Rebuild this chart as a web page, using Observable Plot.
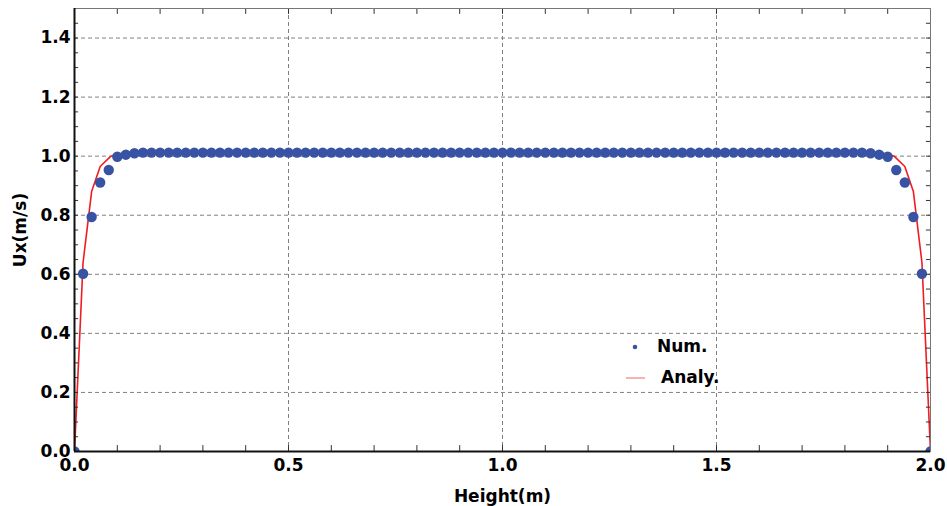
<!DOCTYPE html>
<html>
<head>
<meta charset="utf-8">
<script src="https://cdn.jsdelivr.net/npm/d3@7"></script>
<script src="https://cdn.jsdelivr.net/npm/@observablehq/plot@0.6"></script>
<style>
  html, body { margin: 0; padding: 0; background: #fff; }
  #wrap { position: relative; width: 947px; height: 506px; }
  #legend { position: absolute; left: 0; top: 0; pointer-events: none; }
</style>
</head>
<body>
<div id="wrap"></div>
<script>
// Numerical solution (dots)
const heightNum = [
  0.00, 0.02, 0.04, 0.06, 0.08, 0.10, 0.12, 0.14, 0.16, 0.18,
  0.20, 0.22, 0.24, 0.26, 0.28, 0.30, 0.32, 0.34, 0.36, 0.38,
  0.40, 0.42, 0.44, 0.46, 0.48, 0.50, 0.52, 0.54, 0.56, 0.58,
  0.60, 0.62, 0.64, 0.66, 0.68, 0.70, 0.72, 0.74, 0.76, 0.78,
  0.80, 0.82, 0.84, 0.86, 0.88, 0.90, 0.92, 0.94, 0.96, 0.98,
  1.00, 1.02, 1.04, 1.06, 1.08, 1.10, 1.12, 1.14, 1.16, 1.18,
  1.20, 1.22, 1.24, 1.26, 1.28, 1.30, 1.32, 1.34, 1.36, 1.38,
  1.40, 1.42, 1.44, 1.46, 1.48, 1.50, 1.52, 1.54, 1.56, 1.58,
  1.60, 1.62, 1.64, 1.66, 1.68, 1.70, 1.72, 1.74, 1.76, 1.78,
  1.80, 1.82, 1.84, 1.86, 1.88, 1.90, 1.92, 1.94, 1.96, 1.98,
  2.00
];
const uxNum = [
  0, 0.602, 0.794, 0.911, 0.953, 0.998, 1.005, 1.010,
  1.012, 1.012, 1.012, 1.012, 1.012, 1.012, 1.012, 1.012, 1.012, 1.012,
  1.012, 1.012, 1.012, 1.012, 1.012, 1.012, 1.012, 1.012, 1.012, 1.012,
  1.012, 1.012, 1.012, 1.012, 1.012, 1.012, 1.012, 1.012, 1.012, 1.012,
  1.012, 1.012, 1.012, 1.012, 1.012, 1.012, 1.012, 1.012, 1.012, 1.012,
  1.012, 1.012, 1.012, 1.012, 1.012, 1.012, 1.012, 1.012, 1.012, 1.012,
  1.012, 1.012, 1.012, 1.012, 1.012, 1.012, 1.012, 1.012, 1.012, 1.012,
  1.012, 1.012, 1.012, 1.012, 1.012, 1.012, 1.012, 1.012, 1.012, 1.012,
  1.012, 1.012, 1.012, 1.012, 1.012, 1.012, 1.012, 1.012, 1.012, 1.012,
  1.012, 1.012, 1.012, 1.012, 1.012,
  1.010, 1.005, 0.998, 0.953, 0.911, 0.794, 0.602, 0
];
// Analytical solution (line)
const heightAnaly = [0, 0.02, 0.04, 0.06, 0.085, 0.11, 0.15, 0.5, 1.0, 1.5, 1.85, 1.89, 1.915, 1.94, 1.96, 1.98, 2.0];
const uxAnaly    = [0, 0.64, 0.88, 0.965, 1.0, 1.01, 1.013, 1.013, 1.013, 1.013, 1.013, 1.01, 1.0, 0.965, 0.88, 0.64, 0];

// Axis ticks
const xTickLabels = [0, 0.5, 1.0, 1.5, 2.0];
const yTickLabels = [0, 0.2, 0.4, 0.6, 0.8, 1.0, 1.2, 1.4];
const xGridLines = [0.5, 1.0, 1.5];
const yGridLines = [0.2, 0.4, 0.6, 0.8, 1.0, 1.2, 1.4];
const xMinorTicks = [0.1, 0.2, 0.3, 0.4, 0.5, 0.6, 0.7, 0.8, 0.9, 1.0, 1.1, 1.2, 1.3, 1.4, 1.5, 1.6, 1.7, 1.8, 1.9];
const yMinorTicks = [0.05, 0.1, 0.15, 0.2, 0.25, 0.3, 0.35, 0.4, 0.45, 0.5, 0.55, 0.6, 0.65, 0.7, 0.75,
                     0.8, 0.85, 0.9, 0.95, 1.0, 1.05, 1.1, 1.15, 1.2, 1.25, 1.3, 1.35, 1.4, 1.45];

const numData = heightNum.map((h, i) => ({h, u: uxNum[i]}));
const analyData = heightAnaly.map((h, i) => ({h, u: uxAnaly[i]}));

const blue = "#3953a4";
const red = "#ee1d23";
const fmt = d3.format(".1f");

const chart = Plot.plot({
  width: 947,
  height: 506,
  marginLeft: 74,
  marginRight: 17,
  marginTop: 8,
  marginBottom: 55,
  x: {domain: [0, 2]},
  y: {domain: [0, 1.5]},
  style: {fontFamily: "'DejaVu Sans', sans-serif", fontSize: "17px", fontWeight: "bold", background: "#fff", color: "#000"},
  marks: [
    Plot.gridX(xGridLines, {stroke: "#808080", strokeOpacity: 1, strokeDasharray: "4,3"}),
    Plot.gridY(yGridLines, {stroke: "#808080", strokeOpacity: 1, strokeDasharray: "4,3"}),
    Plot.line(analyData, {x: "h", y: "u", stroke: red, strokeWidth: 1.6, clip: true}),
    Plot.dot(numData, {x: "h", y: "u", r: 5.2, fill: blue, stroke: "none", clip: true}),
    Plot.ruleX(xMinorTicks, {x: d => d, y1: 0, y2: 0.02, stroke: "#333", strokeWidth: 1}),
    Plot.ruleX(xMinorTicks, {x: d => d, y1: 1.5, y2: 1.48, stroke: "#333", strokeWidth: 1}),
    Plot.ruleY(yMinorTicks, {y: d => d, x1: 0, x2: 0.0095, stroke: "#333", strokeWidth: 1}),
    Plot.ruleY(yMinorTicks, {y: d => d, x1: 2, x2: 1.9905, stroke: "#333", strokeWidth: 1}),
    Plot.frame({stroke: "#777", strokeWidth: 1}),
    Plot.ruleX([0], {stroke: "#111", strokeWidth: 2}),
    Plot.ruleY([0], {stroke: "#111", strokeWidth: 2}),
    Plot.axisY(yTickLabels, {tickSize: 0, tickPadding: 4, tickFormat: fmt, label: "Ux(m/s)", labelAnchor: "center", labelOffset: 61, labelArrow: "none"}),
    Plot.axisX(xTickLabels, {tickSize: 0, tickPadding: 7, tickFormat: fmt, label: "Height(m)", labelAnchor: "center", labelOffset: 50, labelArrow: "none"})
  ]
});

const wrap = document.getElementById("wrap");
wrap.appendChild(chart);

// Legend overlay
const leg = d3.select(wrap).append("svg")
  .attr("id", "legend").attr("width", 947).attr("height", 506);
const lg = leg.append("g")
  .attr("font-family", "'DejaVu Sans', sans-serif")
  .attr("font-size", 17).attr("font-weight", "bold");
const legendItems = [
  {label: "Num.", kind: "dot"},
  {label: "Analy.", kind: "line"}
];
legendItems.forEach((it, i) => {
  const y = 347 + i * 31;
  if (it.kind === "dot") {
    lg.append("circle").attr("cx", 635).attr("cy", y).attr("r", 2.3).attr("fill", blue);
    lg.append("text").attr("x", 657).attr("y", y + 5).text(it.label);
  } else {
    lg.append("line").attr("x1", 626).attr("x2", 645).attr("y1", y).attr("y2", y)
      .attr("stroke", "#f08a8a").attr("stroke-width", 1.3);
    lg.append("text").attr("x", 661).attr("y", y + 5).text(it.label);
  }
});
</script>
</body>
</html>
